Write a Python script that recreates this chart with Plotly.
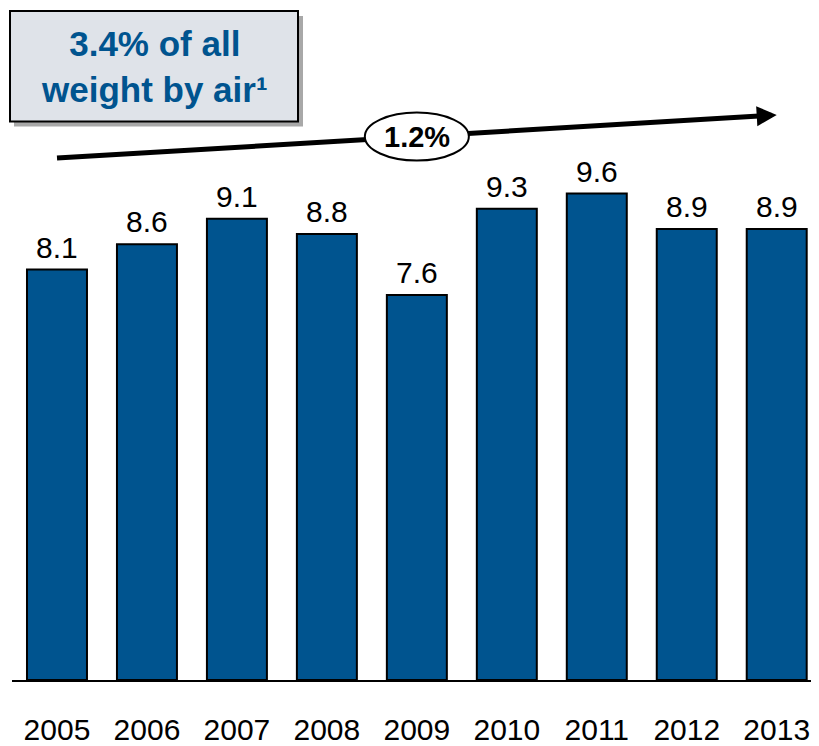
import plotly.graph_objects as go

years = ["2005", "2006", "2007", "2008", "2009", "2010", "2011", "2012", "2013"]
values = [8.1, 8.6, 9.1, 8.8, 7.6, 9.3, 9.6, 8.9, 8.9]
value_labels = ["8.1", "8.6", "9.1", "8.8", "7.6", "9.3", "9.6", "8.9", "8.9"]
box_text = "3.4% of all<br>weight by air¹"
cagr_text = "1.2%"
cagr_start, cagr_end = 10.3, 11.15

OFF = 8  # default page body margin
W, H = 819 - OFF, 746 - OFF
ML, MR, MT, MB = 4, 0, 0, 63
PW, PH = W - ML - MR, H - MT - MB

def px_x(p):
    return (p - OFF - ML) / PW

def px_y(p):
    return (H - MB - (p - OFF)) / PH

BLUE = "#00548F"
FONT = "Arial, Liberation Sans, sans-serif"

fig = go.Figure()
fig.add_trace(go.Bar(
    x=years, y=values,
    marker=dict(color=BLUE, line=dict(color="black", width=2)),
    cliponaxis=False,
))

for i, (v, lab) in enumerate(zip(values, value_labels)):
    fig.add_annotation(x=i, y=v, xref="x", yref="y", text=lab, showarrow=False,
                       yanchor="bottom", yshift=4,
                       font=dict(size=30, color="black", family=FONT))

# shadow and text box
fig.add_shape(type="rect", xref="paper", yref="paper",
              x0=px_x(14), x1=px_x(303), y0=px_y(127), y1=px_y(16),
              fillcolor="rgba(110,110,110,0.6)", line=dict(width=0), layer="above")
fig.add_shape(type="rect", xref="paper", yref="paper",
              x0=px_x(10), x1=px_x(298), y0=px_y(122), y1=px_y(11),
              fillcolor="#DFE3E9", line=dict(color="black", width=2), layer="above")
fig.add_annotation(xref="paper", yref="paper", x=px_x(154), y=px_y(67),
                   text=box_text, showarrow=False,
                   font=dict(size=35, color=BLUE, family=FONT, weight="bold"),
                   xanchor="center", yanchor="middle")

# CAGR arrow: line, then ellipse on top, arrowhead annotation
slope = (cagr_end - cagr_start) / 8
fig.add_shape(type="line", xref="x", yref="y", x0=0, y0=cagr_start,
              x1=7.85, y1=cagr_start + slope * 7.85,
              line=dict(color="black", width=5), layer="above")
fig.add_annotation(x=8, y=cagr_end, xref="x", yref="y", ax=-20, ay=1.2,
                   showarrow=True, text="", arrowhead=2, arrowsize=0.8,
                   arrowwidth=5, arrowcolor="black", standoff=0, startstandoff=0)
ymid = (cagr_start + cagr_end) / 2
fig.add_shape(type="circle", xref="x", yref="y", xsizemode="pixel", ysizemode="pixel",
              xanchor=4, yanchor=ymid, x0=-52, x1=52, y0=-24, y1=24,
              fillcolor="white", line=dict(color="black", width=2), layer="above")
fig.add_annotation(x=4, y=ymid, xref="x", yref="y", text=cagr_text, showarrow=False,
                   font=dict(size=29, color="black", family=FONT, weight="bold"))

fig.update_layout(
    width=W, height=H,
    margin=dict(l=ML, r=MR, t=MT, b=MB),
    plot_bgcolor="white", paper_bgcolor="white",
    bargap=1/3, showlegend=False,
    font=dict(family=FONT),
)
fig.update_xaxes(type="category", range=[-0.5, 8.47], showline=True, linecolor="black",
                 linewidth=2, ticks="", showgrid=False,
                 tickfont=dict(size=30, color="black", family=FONT), ticklabelstandoff=22)
fig.update_yaxes(range=[0, PH / 50.9], visible=False, showgrid=False)

fig.write_html("out.html")
